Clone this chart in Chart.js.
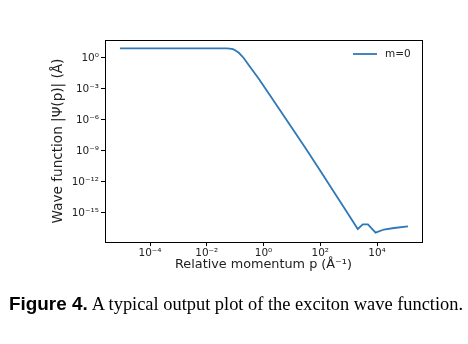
<!DOCTYPE html>
<html>
<head>
<meta charset="utf-8">
<script src="https://cdn.jsdelivr.net/npm/chart.js@4.4.1/dist/chart.umd.min.js"></script>
<style>
  html, body { margin: 0; padding: 0; background: #fff; }
  #wrap { position: relative; width: 468px; height: 344px; }
  #c { position: absolute; left: 0; top: 0; }
  #cap { position: absolute; left: 9px; top: 293px; white-space: nowrap; color: #000; }
  #cap b { font-family: "Liberation Sans", Arial, sans-serif; font-weight: bold; font-size: 18.9px; }
  #cap span { font-family: "Liberation Serif", "Times New Roman", serif; font-size: 18.4px; }
</style>
</head>
<body>
<div id="wrap">
  <canvas id="c" width="468" height="344"></canvas>
  <div id="cap"><b>Figure 4.</b> <span>A typical output plot of the exciton wave function.</span></div>
</div>
<script>
// ---- data ----
const momentum = [8.7e-6, 3.2e-5, 1e-4, 1e-3, 1e-2, 3.2e-2, 5.0e-2, 6.6e-2, 8.3e-2, 0.1, 0.135, 0.2, 0.30, 0.68,
                  1.78, 5.6, 30, 100, 316, 1000, 2090, 3160, 4790, 8900, 17400, 39800, 123000];
const psiM0 = [8.7, 8.7, 8.7, 8.7, 8.7, 8.7, 8.6, 8.2, 7.1, 5.6, 3.2, 1.0, 0.21, 1.0e-2,
               2.0e-4, 1.8e-6, 1.95e-9, 1.2e-11, 8.9e-14, 6.6e-16, 2.8e-17, 7.9e-17, 7.9e-17, 1.26e-17, 2.5e-17, 3.5e-17, 5.0e-17];
const seriesLabel = "m=0";
const xTickValues = [1e-4, 1e-2, 1, 1e2, 1e4];
const xTickLabels = ["10\u207B\u2074", "10\u207B\u00B2", "10\u2070", "10\u00B2", "10\u2074"];
const yTickValues = [1, 1e-3, 1e-6, 1e-9, 1e-12, 1e-15];
const yTickLabels = ["10\u2070", "10\u207B\u00B3", "10\u207B\u2076", "10\u207B\u2079", "10\u207B\u00B9\u00B2", "10\u207B\u00B9\u2075"];
const xRange = [2.59e-6, 3.85e5];
const yRange = [1.55e-18, 55.2];
const xTitle = "Relative momentum p (\u00C5\u207B\u00B9)";
const yTitle = "Wave function |\u03A8(p)| (\u00C5)";

const lineColor = "#2f78b8";
const fontFam = "'DejaVu Sans', sans-serif";

const framePlugin = {
  id: "frame",
  afterDraw(chart) {
    const {ctx, chartArea: a} = chart;
    ctx.save();
    ctx.strokeStyle = "#000";
    ctx.lineWidth = 1;
    ctx.strokeRect(Math.round(a.left) + 0.5, Math.round(a.top) + 0.5,
                   Math.round(a.right - a.left), Math.round(a.bottom - a.top));
    // legend (upper right, matplotlib style)
    const ds = chart.data.datasets[0];
    const y = a.top + 14;
    const x1 = a.right - 69;
    ctx.strokeStyle = ds.borderColor;
    ctx.lineWidth = 1.8;
    ctx.beginPath();
    ctx.moveTo(x1, y);
    ctx.lineTo(x1 + 24, y);
    ctx.stroke();
    ctx.fillStyle = "#222";
    ctx.font = "10.5px " + fontFam;
    ctx.textBaseline = "middle";
    ctx.textAlign = "left";
    ctx.fillText(ds.label, x1 + 32, y);
    ctx.restore();
  }
};

new Chart(document.getElementById("c"), {
  type: "line",
  data: {
    datasets: [{
      label: seriesLabel,
      data: momentum.map((p, i) => ({x: p, y: psiM0[i]})),
      borderColor: lineColor,
      borderWidth: 1.8,
      pointRadius: 0,
      tension: 0,
      fill: false
    }]
  },
  options: {
    responsive: false,
    animation: false,
    layout: { padding: { left: 50, right: 46, top: 40, bottom: 72 } },
    plugins: { legend: { display: false }, tooltip: { enabled: false } },
    scales: {
      x: {
        type: "logarithmic",
        min: xRange[0], max: xRange[1],
        afterBuildTicks(scale) { scale.ticks = xTickValues.map(v => ({value: v})); },
        afterFit(scale) { scale.height = 30; },
        ticks: {
          autoSkip: false, maxRotation: 0, padding: 1,
          color: "#222", font: { family: fontFam, size: 10.5 },
          callback: (v, i) => xTickLabels[i]
        },
        grid: { drawOnChartArea: false, drawTicks: true, tickLength: 4, color: "#000", tickWidth: 1 },
        border: { display: false },
        title: { display: true, text: xTitle, color: "#222", font: { family: fontFam, size: 12.8 }, padding: { top: 0, bottom: 0 } }
      },
      y: {
        type: "logarithmic",
        min: yRange[0], max: yRange[1],
        afterBuildTicks(scale) { scale.ticks = yTickValues.map(v => ({value: v})); },
        afterFit(scale) { scale.width = 55; },
        ticks: {
          autoSkip: false, padding: 2,
          color: "#222", font: { family: fontFam, size: 10.5 },
          callback: (v, i) => yTickLabels[i]
        },
        grid: { drawOnChartArea: false, drawTicks: true, tickLength: 4, color: "#000", tickWidth: 1 },
        border: { display: false },
        title: { display: true, text: yTitle, color: "#222", font: { family: fontFam, size: 13.6 }, padding: { top: 0, bottom: 0 } }
      }
    }
  },
  plugins: [framePlugin]
});
</script>
</body>
</html>
